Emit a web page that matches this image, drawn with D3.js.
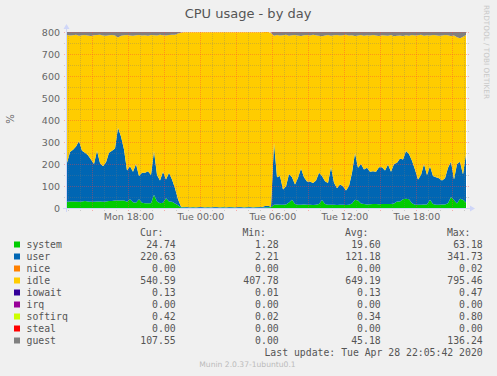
<!DOCTYPE html>
<html><head><meta charset="utf-8">
<script src="https://cdn.jsdelivr.net/npm/d3@7"></script>
<style>
html,body{margin:0;padding:0;background:#F0F0F0;}
svg{display:block;}
</style></head>
<body>
<svg id="c" width="497" height="376"></svg>
<script>
// ---------- data (15-minute samples, Mon 12:53 -> Tue 22:08) ----------
const startTime = new Date(2020, 3, 27, 12, 53);
const stepMinutes = 15;
const system = [28,30,30,30,28,30,32,30,28,28,30,30,28,30,32,32,34,34,34,34,28,40,26,24,40,24,22,22,22,60,30,22,24,44,
  30,28,20,12,2.5,
  1.8,1.6,1.5,1.9,1.4,1.7,1.6,1.5,1.8,1.3,1.6,1.7,1.5,1.9,1.4,1.6,1.8,1.5,1.6,1.7,1.4,1.9,1.6,1.5,1.8,1.6,1.7,2.5,3.0,
  3,
  15,16,15,15,16,25,38,18,15,15,16,15,15,14,15,18,36,18,15,15,15,14,15,15,14,15,20,38,34,20,18,16,17,
  18,18,17,18,18,18,18,20,30,30,40,42,40,22,15,15,15,16,16,38,18,15,15,16,16,22,50,35,20,42,38,25];
const user = [178,225,235,250,277,230,219,210,193,172,230,175,162,178,219,228,236,331,291,232,142,150,139,176,105,136,138,145,128,199,120,103,141,86,
  130,102,70,28,3,
  2.6,2.4,2.3,2.8,2.2,2.5,2.6,2.4,2.9,2.3,2.5,2.7,2.4,2.6,2.3,2.5,2.8,2.4,2.6,2.5,2.3,2.7,2.5,2.4,2.6,2.5,2.8,6.5,7.0,
  3,
  282,124,130,69,83,130,102,89,122,165,124,105,105,100,110,142,109,104,99,170,100,76,92,84,66,85,140,212,149,180,157,167,148,
  149,147,168,167,152,180,147,180,176,195,181,217,205,193,160,114,135,184,134,152,127,125,120,109,119,161,160,95,180,168,114,220];
const idle = [580,529,520,507,478,525,535,544,561,585,526,582,594,575,534,526,514,410,458,519,616,594,618,585,641,624,625,616,636,526,634,662,620,654,626,657,698,753,
  791.5,
  794.8,795.1,795.3,794.6,795.4,794.9,795.0,795.2,794.5,795.46,795.0,794.7,795.2,794.6,795.3,795.0,794.5,795.1,794.9,794.8,795.3,794.4,794.9,795.1,794.6,794.9,794.6,790.5,789.8,
  790,
  486,646,639,701,688,628,645,679,647,602,645,666,664,673,660,623,636,662,672,598,670,696,677,686,707,684,625,532,601,586,608,602,619,619,619,597,600,614,585,621,
  581,577,559,561,526,538,571,609,656,637,583,635,594,641,645,648,659,651,602,572,654,576,562,626,541];
const guest = [55,60,52,48,62,58,50,54,60,57,49,53,61,58,50,55,63,70,58,52,47,55,60,52,49,56,61,54,50,58,62,47,53,59,51,40,25,8,
  2,
  0,0,0,0,0,0,0,0,0,0,0,0,0,0,0,0,0,0,0,0,0,0,0,0,0,0,0,0,0,
  0,
  70,85,92,80,76,88,95,83,79,90,98,86,81,93,100,88,84,95,102,90,87,97,105,92,88,99,110,96,91,104,112,98,94,106,115,101,97,109,118,104,
  99,112,120,107,103,115,124,110,106,118,127,113,108,121,130,116,111,124,133,119,114,126,136,122,108];

const yTicks = [0,100,200,300,400,500,600,700,800];
const xTickTimes = [new Date(2020,3,27,18,0), new Date(2020,3,28,0,0), new Date(2020,3,28,6,0), new Date(2020,3,28,12,0), new Date(2020,3,28,18,0)];
const xTickLabels = ["Mon 18:00","Tue 00:00","Tue 06:00","Tue 12:00","Tue 18:00"];

const legendNames  = ["system","user","nice","idle","iowait","irq","softirq","steal","guest"];
const legendColors = ["#00CC00","#0066B3","#FF8000","#FFCC00","#330099","#990099","#CCFF00","#FF0000","#808080"];
const legendCur = ["24.74","220.63","0.00","540.59","0.13","0.00","0.42","0.00","107.55"];
const legendMin = ["1.28","2.21","0.00","407.78","0.01","0.00","0.02","0.00","0.00"];
const legendAvg = ["19.60","121.18","0.00","649.19","0.13","0.00","0.34","0.00","45.18"];
const legendMax = ["63.18","341.73","0.02","795.46","0.47","0.00","0.80","0.00","136.24"];

// ---------- drawing ----------
const svg = d3.select("#c");
const L = 67, R = 467, T = 32, B = 208;
const endTime = new Date(+startTime + 400*5*60000);
const x = d3.scaleTime().domain([startTime, endTime]).range([L, R]);
const y = d3.scaleLinear().domain([0, 800]).range([B, T]);

const rows = system.map((s, i) => ({
  t: new Date(+startTime + i*stepMinutes*60000),
  system: s, user: user[i], idle: idle[i], guest: guest[i]
}));
const keys = ["system","user","idle","guest"];
const colorOf = {system:"#00CC00", user:"#0066B3", idle:"#FFCC00", guest:"#808080"};
const stacked = d3.stack().keys(keys)(rows);

svg.append("rect").attr("x", L).attr("y", T).attr("width", R-L).attr("height", B-T).attr("fill", "#FFFFFF");
svg.append("clipPath").attr("id","clip").append("rect").attr("x", L).attr("y", T).attr("width", R-L).attr("height", B-T);

const area = d3.area().x(d => x(d.data.t)).y0(d => y(d[0])).y1(d => y(Math.min(d[1], 820)));
svg.append("g").attr("clip-path","url(#clip)").selectAll("path").data(stacked).join("path")
  .attr("d", area).attr("fill", d => colorOf[d.key]);

// grid
const majorCol = "rgba(255,60,60,0.38)", minorCol = "rgba(120,120,120,0.3)";
const grid = svg.append("g");
for (let v = 50; v <= 800; v += 50) {
  const yy = Math.round(y(v)) + 0.5;
  const major = v % 100 === 0;
  grid.append("line").attr("x1", L-3).attr("x2", R+2).attr("y1", yy).attr("y2", yy)
    .attr("stroke", major ? majorCol : minorCol)
    .attr("stroke-dasharray", "1,1");
}
const hours = d3.timeHour.range(startTime, endTime);
hours.forEach(h => {
  const xx = Math.round(x(h)) + 0.5;
  const major = h.getHours() % 3 === 0;
  grid.append("line").attr("x1", xx).attr("x2", xx).attr("y1", T).attr("y2", B+3)
    .attr("stroke", major ? majorCol : minorCol)
    .attr("stroke-dasharray", "1,1");
});

// axes lines + arrows
const axisColor = "#CFD6F8";
svg.append("line").attr("x1", L-4).attr("x2", R+5).attr("y1", B+0.5).attr("y2", B+0.5).attr("stroke", axisColor);
svg.append("line").attr("x1", L-0.5).attr("x2", L-0.5).attr("y1", B+4).attr("y2", T-4).attr("stroke", axisColor);
svg.append("path").attr("d", `M${R+3},${B-2.5}L${R+8},${B+0.5}L${R+3},${B+3.5}Z`).attr("fill", axisColor);
svg.append("path").attr("d", `M${L-3.5},${T-3}L${L-0.5},${T-8}L${L+2.5},${T-3}Z`).attr("fill", axisColor);

// axis labels
const fontCol = "#666666";
const yAxis = svg.append("g").attr("transform", `translate(${L},0)`)
  .call(d3.axisLeft(y).tickValues(yTicks).tickSize(0).tickPadding(7).tickFormat(d3.format("d")));
yAxis.select(".domain").remove();
yAxis.selectAll("text").attr("font-family","DejaVu Sans").attr("font-size","9.5px").attr("fill", fontCol);

const xAxis = svg.append("g").attr("transform", `translate(0,${B})`)
  .call(d3.axisBottom(x).tickValues(xTickTimes).tickSize(0).tickFormat((d,i) => xTickLabels[i]));
xAxis.select(".domain").remove();
xAxis.selectAll("text").attr("y", 8.7).attr("dy","0.35em")
  .attr("font-family","DejaVu Sans").attr("font-size","9.5px").attr("fill", fontCol);

// title, unit, credit
svg.append("text").attr("x", 248).attr("y", 13.5).attr("dy","0.35em").attr("text-anchor","middle")
  .attr("font-family","DejaVu Sans").attr("font-size","13px").attr("fill","#555").text("CPU usage - by day");
svg.append("text").attr("transform","translate(10,119) rotate(-90)").attr("dy","0.35em").attr("text-anchor","middle")
  .attr("font-family","DejaVu Sans").attr("font-size","10px").attr("fill",fontCol).text("%");
svg.append("text").attr("transform","translate(486.5,5) rotate(90)").attr("dy","0.35em").attr("text-anchor","start")
  .attr("font-family","DejaVu Sans").attr("font-size","7.3px").attr("fill","#C8C8C8").text("RRDTOOL / TOBI OETIKER");

// legend
const mono = "DejaVu Sans Mono";
const lg = svg.append("g").attr("font-family", mono).attr("font-size","9.8px").attr("fill","#555");
const colsRightHead = [163.5, 266, 368.5, 470.5];
["Cur:","Min:","Avg:","Max:"].forEach((h, j) => {
  lg.append("text").attr("x", colsRightHead[j]).attr("y", 232.7).attr("dy","0.35em").attr("text-anchor","end").text(h);
});
const colsRight = [175.7, 278.7, 380.7, 482.7];
const colsData = [legendCur, legendMin, legendAvg, legendMax];
legendNames.forEach((n, i) => {
  const cy = 244.5 + i*12;
  lg.append("rect").attr("x", 14).attr("y", cy-3).attr("width", 6).attr("height", 6).attr("fill", legendColors[i]);
  lg.append("text").attr("x", 26.5).attr("y", cy).attr("dy","0.35em").text(n);
  colsData.forEach((arr, j) => {
    lg.append("text").attr("x", colsRight[j]).attr("y", cy).attr("dy","0.35em").attr("text-anchor","end").text(arr[i]);
  });
});
lg.append("text").attr("x", 482.7).attr("y", 352.7).attr("dy","0.35em").attr("text-anchor","end")
  .text("Last update: Tue Apr 28 22:05:42 2020");
svg.append("text").attr("x", 247.5).attr("y", 364.5).attr("dy","0.35em").attr("text-anchor","middle")
  .attr("font-family","DejaVu Sans").attr("font-size","7.6px").attr("fill","#BBBBBB").text("Munin 2.0.37-1ubuntu0.1");
</script>
</body></html>
